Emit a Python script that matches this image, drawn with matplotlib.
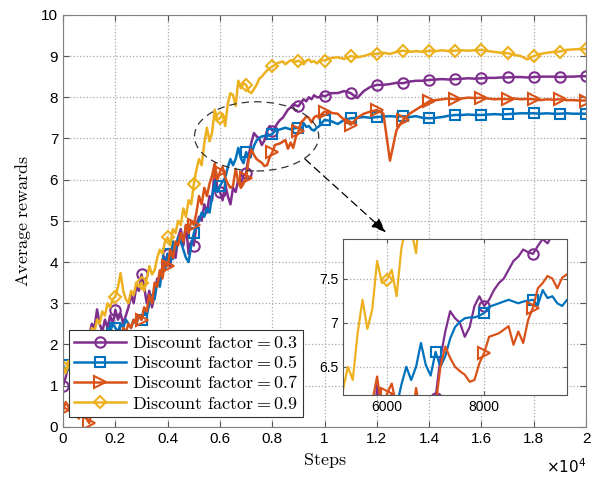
import numpy as np
import matplotlib
matplotlib.use("Agg")
import matplotlib.pyplot as plt
from matplotlib.patches import Ellipse
from matplotlib.ticker import FuncFormatter

plt.rcParams["font.family"] = ["Liberation Sans", "DejaVu Sans"]
plt.rcParams["mathtext.fontset"] = "cm"

# steps: every 100 up to 9900, then every 250 up to 20000
steps = np.concatenate([np.arange(0, 10000, 100), np.arange(10000, 20001, 250)])

gamma_03 = [
    1.0, 1.2, 1.5, 1.4, 1.7, 1.9, 1.8, 2.1, 2.0, 2.3,
    2.2, 2.5, 2.4, 2.85, 2.5, 2.3, 2.6, 2.4, 2.7, 2.5,
    2.84, 2.6, 2.75, 2.5, 2.7, 2.9, 3.2, 3.0, 3.4, 3.3,
    3.7, 3.4, 3.0, 3.3, 2.9, 3.2, 3.6, 3.5, 3.9, 4.0,
    4.2, 3.9, 4.4, 4.1, 4.6, 4.8, 4.4, 4.9, 4.2, 4.5,
    4.4, 4.9, 5.1, 5.0, 5.4, 5.2, 5.6, 5.5, 6.3, 5.8,
    5.7, 5.5, 5.9, 5.6, 5.4, 5.8, 5.7, 6.0, 5.9, 6.1,
    6.15, 6.6, 6.9, 7.13, 7.05, 7.0, 6.84, 6.95, 7.19, 7.3,
    7.19, 7.26, 7.37, 7.45, 7.5, 7.6, 7.7, 7.75, 7.83, 7.8,
    7.78, 7.87, 7.95, 7.9, 8.0, 7.95, 8.05, 8.0, 8.0, 8.05,
    8.02, 8.1, 8.1, 8.15, 8.1, 7.98, 8.15, 8.25, 8.3,
    8.3, 8.32, 8.35, 8.34, 8.38, 8.4, 8.4, 8.42,
    8.43, 8.44, 8.43, 8.44, 8.45, 8.46, 8.45, 8.46,
    8.47, 8.47, 8.48, 8.48, 8.49, 8.49, 8.48, 8.49,
    8.5, 8.5, 8.5, 8.49, 8.5, 8.5, 8.51, 8.51,
]

gamma_05 = [
    1.5, 1.3, 1.6, 1.4, 1.2, 1.5, 1.7, 1.6, 1.9, 1.8,
    2.0, 1.9, 2.2, 2.1, 2.0, 2.3, 2.2, 2.4, 2.3, 2.5,
    2.4, 2.3, 2.5, 2.4, 2.6, 2.5, 2.4, 2.6, 2.5, 2.7,
    2.6, 2.8, 2.7, 3.0, 3.2, 3.1, 3.5, 3.4, 3.9, 3.8,
    4.2, 4.0, 4.5, 4.3, 4.6, 4.5, 4.3, 4.1, 4.0, 4.4,
    4.7, 4.9, 5.0, 5.2, 5.1, 5.3, 5.2, 5.6, 5.9, 5.7,
    5.85, 5.95, 6.05, 6.3, 6.5, 6.35, 6.5, 6.77, 6.52, 6.4,
    6.67, 6.5, 6.62, 6.82, 6.95, 7.01, 7.05, 7.06, 7.06, 7.08,
    7.11, 7.18, 7.2, 7.22, 7.24, 7.26, 7.24, 7.22, 7.24, 7.25,
    7.26, 7.2, 7.37, 7.28, 7.3, 7.22, 7.19, 7.26, 7.3, 7.38,
    7.45, 7.42, 7.35, 7.45, 7.49, 7.5, 7.52, 7.5, 7.52,
    7.53, 7.54, 7.53, 7.54, 7.52, 7.54, 7.5, 7.49,
    7.5, 7.52, 7.55, 7.57, 7.57, 7.58, 7.57, 7.57,
    7.58, 7.59, 7.58, 7.59, 7.6, 7.61, 7.61, 7.61,
    7.6, 7.61, 7.6, 7.6, 7.61, 7.6, 7.6, 7.6,
]

gamma_07 = [
    0.4, 0.6, 0.5, 0.3, 0.5, 0.4, 0.2, 0.4, 0.3, 0.2,
    0.09, 0.4, 0.7, 1.0, 1.3, 1.2, 1.5, 1.7, 1.6, 1.9,
    2.0, 2.2, 2.1, 2.4, 2.3, 2.5, 2.4, 2.6, 2.5, 2.7,
    2.6, 2.9, 2.8, 3.2, 3.0, 3.5, 3.4, 3.8, 3.6, 4.0,
    3.9, 4.3, 4.1, 4.5, 4.4, 4.7, 4.5, 4.9, 4.7, 5.0,
    4.9, 5.2, 5.6, 5.4, 5.8, 5.6, 5.9, 6.1, 6.39, 6.0,
    6.19, 6.31, 6.05, 5.9, 5.8, 5.85, 6.26, 5.95, 5.8, 5.9,
    6.05, 6.5, 6.73, 6.6, 6.5, 6.45, 6.41, 6.33, 6.35, 6.54,
    6.66, 6.84, 6.86, 6.88, 6.92, 6.96, 6.75, 6.9, 6.77, 7.03,
    7.17, 7.39, 7.45, 7.53, 7.5, 7.39, 7.51, 7.55, 7.5, 7.6,
    7.65, 7.62, 7.6, 7.45, 7.33, 7.5, 7.6, 7.65, 7.69,
    7.6, 6.46, 7.2, 7.45, 7.6, 7.7, 7.8, 7.9,
    7.93, 7.95, 7.97, 7.95, 7.97, 7.99, 7.98, 7.99,
    7.97, 7.95, 7.96, 7.95, 7.97, 7.95, 7.96, 7.95,
    7.93, 7.95, 7.94, 7.95, 7.93, 7.93, 7.92, 7.92,
]

gamma_09 = [
    1.46, 1.3, 1.6, 1.5, 1.8, 1.7, 1.9, 2.1, 2.0, 2.2,
    2.1, 2.4, 2.3, 2.6, 2.5, 2.8, 2.7, 3.0, 2.9, 3.1,
    3.16, 3.4, 3.73, 3.3, 3.1, 3.0, 3.3, 3.2, 3.5, 3.4,
    3.5, 3.3, 3.6, 3.9, 3.7, 3.8, 4.1, 4.3, 4.2, 4.5,
    4.6, 4.4, 4.8, 4.7, 5.0, 4.9, 5.3, 5.1, 5.5, 5.4,
    5.9, 6.24, 6.5, 6.35, 6.88, 7.26, 6.93, 7.15, 7.7, 7.45,
    7.49, 7.6, 7.3, 7.85, 8.1, 8.05, 7.79, 8.4, 8.22, 8.34,
    8.3, 8.14, 8.1, 8.2, 8.3, 8.45, 8.5, 8.58, 8.65, 8.7,
    8.75, 8.78, 8.83, 8.85, 8.87, 8.8, 8.85, 8.9, 8.88, 8.86,
    8.89, 8.85, 8.8, 8.88, 8.92, 8.85, 8.88, 8.82, 8.87, 8.9,
    8.89, 8.95, 8.97, 8.93, 9.0, 8.97, 9.0, 9.05, 9.05,
    9.08, 9.05, 9.1, 9.13, 9.1, 9.12, 9.1, 9.13,
    9.12, 9.14, 9.12, 9.13, 9.14, 9.13, 9.14, 9.15,
    9.12, 9.1, 9.08, 9.07, 9.03, 9.0, 8.92, 9.0,
    9.05, 9.08, 9.1, 9.11, 9.15, 9.16, 9.17, 9.17,
]

labels = [r"$\mathrm{Discount\ factor} = 0.3$", r"$\mathrm{Discount\ factor} = 0.5$",
          r"$\mathrm{Discount\ factor} = 0.7$", r"$\mathrm{Discount\ factor} = 0.9$"]
series = [gamma_03, gamma_05, gamma_07, gamma_09]
colors = ["#7E2F8E", "#0072BD", "#D95319", "#EDB120"]
markers = ["o", "s", ">", "D"]
msizes = [7.5, 6.5, 8, 6]

mark_idx = np.flatnonzero(steps % 1000 == 0)


def draw(ax, lw=1.8):
    for y, c, m, ms, lab in zip(series, colors, markers, msizes, labels):
        ax.plot(steps, y, color=c, lw=lw, marker=m, ms=ms, mfc="none",
                mec=c, mew=1.5, markevery=mark_idx, label=lab)


fig = plt.figure(figsize=(5.95, 4.79), dpi=100)
ax = fig.add_axes([0.106, 0.109, 0.879, 0.860])
draw(ax)
ax.set_xlim(0, 20000)
ax.set_ylim(0, 10)
ax.set_xticks(np.arange(0, 20001, 2000))
ax.set_yticks(np.arange(0, 11, 1))
ax.xaxis.set_major_formatter(FuncFormatter(lambda v, p: f"{v / 1e4:g}"))
ax.grid(True, ls=":", color="#a8a8a8", lw=0.9)
ax.tick_params(direction="in", top=True, right=True, labelsize=11,
               length=4, color="#555555")
for s in ax.spines.values():
    s.set_color("#808080")
ax.set_xlabel(r"$\mathrm{Steps}$", fontsize=13, labelpad=4)
ax.set_ylabel(r"$\mathrm{Average\ rewards}$", fontsize=13, labelpad=6)
# x-axis exponent, MATLAB style
ax.text(1.0, -0.075, r"$\times10^{4}$", transform=ax.transAxes, ha="right",
        va="top", fontsize=11, math_fontfamily="dejavusans")

leg = ax.legend(loc="lower left", bbox_to_anchor=(0.116, 0.129),
                bbox_transform=fig.transFigure, fontsize=13, handlelength=2.9,
                labelspacing=0.18, borderpad=0.25, handletextpad=0.35,
                fancybox=False, framealpha=1, edgecolor="#333333",
                borderaxespad=0)
leg.get_frame().set_linewidth(0.8)

# zoom region marker and pointer
ell = Ellipse((7400, 7.05), 4750, 1.68, fill=False, ls=(0, (6, 4)),
              ec="#333333", lw=0.9, zorder=5)
ax.add_patch(ell)
ax.annotate("", xy=(12350, 4.72), xytext=(9250, 6.5),
            arrowprops=dict(arrowstyle="-|>,head_length=0.9,head_width=0.35",
                            ls=(0, (6, 4)), color="black", lw=0.9,
                            shrinkA=0, shrinkB=0), zorder=5)

# inset
ins = fig.add_axes([0.5765, 0.1754, 0.3765, 0.3257])
draw(ins, lw=1.6)
ins.set_xlim(5100, 9700)
ins.set_ylim(6.18, 7.95)
ins.set_xticks([6000, 8000])
ins.set_yticks([6.5, 7, 7.5])
ins.yaxis.set_major_formatter(FuncFormatter(lambda v, p: f"{v:g}"))
ins.grid(True, ls=":", color="#a8a8a8", lw=0.9)
ins.tick_params(direction="in", top=True, right=True, labelsize=10,
                length=3, color="#555555")
for s in ins.spines.values():
    s.set_color("#555555")

fig.savefig("out.png", dpi=100)
